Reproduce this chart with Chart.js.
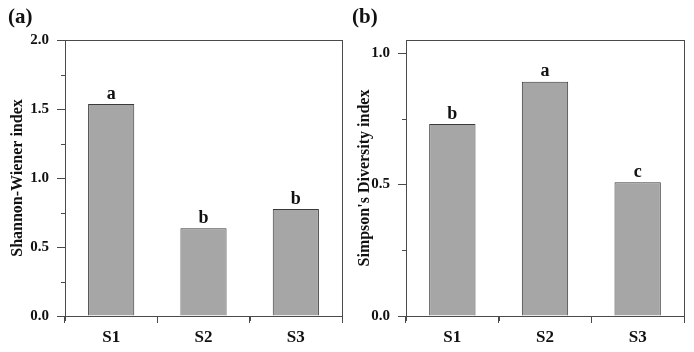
<!DOCTYPE html>
<html>
<head>
<meta charset="utf-8">
<script src="https://cdn.jsdelivr.net/npm/chart.js@4.4.1/dist/chart.umd.min.js"></script>
<style>
  body { margin: 0; background: #fff; }
  .panel { position: absolute; top: 0; width: 347px; height: 352px; }
  .tag { position: absolute; top: 4px; font: bold 21px "Liberation Serif", serif; color: #111; }
</style>
</head>
<body>
<div class="panel" style="left:0"><canvas id="chartA" width="347" height="352"></canvas></div>
<div class="panel" style="left:347px"><canvas id="chartB" width="347" height="352"></canvas></div>
<div class="tag" style="left:8px">(a)</div>
<div class="tag" style="left:352px">(b)</div>
<script>
const sites = ['S1', 'S2', 'S3'];
const shannonValues = [1.536, 0.635, 0.775];
const shannonLetters = ['a', 'b', 'b'];
const shannonTicks = [0, 0.5, 1.0, 1.5, 2.0];
const simpsonValues = [0.73, 0.891, 0.509];
const simpsonLetters = ['b', 'a', 'c'];
const simpsonTicks = [0, 0.5, 1.0];

const lineCol = '#4a4a4a';
const serif = '"Liberation Serif", "Times New Roman", serif';

// frame, minor ticks and the letters over the bars
const extras = {
  id: 'extras',
  afterDraw(chart, args, opts) {
    const ctx = chart.ctx;
    const area = chart.chartArea;
    const x = chart.scales.x, y = chart.scales.y;
    ctx.save();
    ctx.strokeStyle = lineCol;
    ctx.lineWidth = 1;
    ctx.strokeRect(Math.round(area.left) + 0.5, Math.round(area.top) + 0.5,
      Math.round(area.right - area.left), Math.round(area.bottom - area.top));
    // minor y ticks
    ctx.beginPath();
    for (let v = 0.25; v < y.max; v += 0.5) {
      const py = Math.round(y.getPixelForValue(v)) + 0.5;
      ctx.moveTo(area.left, py);
      ctx.lineTo(area.left - 4, py);
    }
    // x boundary ticks
    const half = (x.getPixelForValue(1) - x.getPixelForValue(0)) / 2;
    for (let i = 0; i <= sites.length; i++) {
      const px = Math.round(x.getPixelForValue(i) - half) + 0.5;
      ctx.moveTo(px, area.bottom);
      ctx.lineTo(px, area.bottom + 5);
    }
    ctx.stroke();
    // significance letters
    ctx.fillStyle = '#111';
    ctx.font = 'bold 18px ' + serif;
    ctx.textAlign = 'center';
    ctx.textBaseline = 'bottom';
    chart.getDatasetMeta(0).data.forEach((bar, i) => {
      ctx.fillText(opts.letters[i], bar.x, bar.y - 1);
    });
    ctx.restore();
  }
};

function makeChart(id, values, letters, ticks, yMax, title, pad, yWidth) {
  return new Chart(document.getElementById(id), {
    type: 'bar',
    data: {
      labels: sites,
      datasets: [{
        data: values,
        backgroundColor: '#a6a6a6',
        borderColor: '#3a3a3a',
        borderWidth: 1,
        barPercentage: 0.5,
        categoryPercentage: 1.0
      }]
    },
    options: {
      responsive: false,
      animation: false,
      layout: { padding: { top: 40, right: pad, left: 0, bottom: 0 } },
      plugins: {
        legend: { display: false },
        tooltip: { enabled: false },
        extras: { letters: letters }
      },
      scales: {
        x: {
          offset: true,
          afterFit: s => { s.height = 36; },
          grid: { drawOnChartArea: false, tickLength: 7, color: lineCol },
          border: { color: lineCol },
          ticks: { color: '#111', padding: 4, font: { family: serif, size: 17, weight: 'bold' } }
        },
        y: {
          min: 0,
          max: yMax,
          afterFit: s => { s.width = yWidth; },
          afterBuildTicks: s => { s.ticks = ticks.map(v => ({ value: v })); },
          grid: { drawOnChartArea: false, tickLength: 8, color: lineCol },
          border: { color: lineCol },
          ticks: {
            color: '#111', padding: 8,
            font: { family: serif, size: 15, weight: 'bold' },
            callback: v => v.toFixed(1)
          },
          title: {
            display: true, text: title, color: '#111',
            padding: { top: 8, bottom: 0 },
            font: { family: serif, size: 16, weight: 'bold' }
          }
        }
      }
    },
    plugins: [extras]
  });
}

makeChart('chartA', shannonValues, shannonLetters, shannonTicks, 2.0, 'Shannon-Wiener index', 5, 65);
makeChart('chartB', simpsonValues, simpsonLetters, simpsonTicks, 1.05, "Simpson's Diversity index", 10, 59);
</script>
</body>
</html>
